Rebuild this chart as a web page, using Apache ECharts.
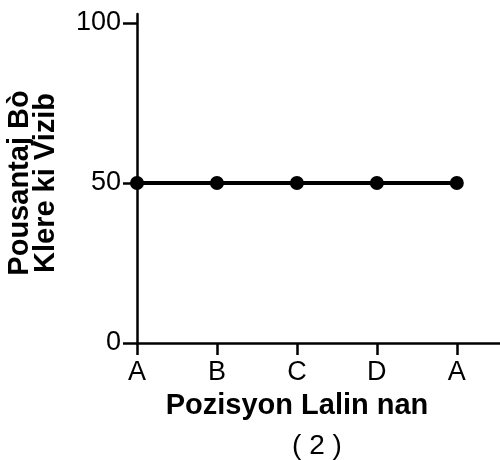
<!DOCTYPE html>
<html>
<head>
<meta charset="utf-8">
<script src="https://cdn.jsdelivr.net/npm/echarts@6/dist/echarts.min.js"></script>
<style>
  html, body { margin: 0; padding: 0; background: #fff; }
  #chart { width: 500px; height: 460px; }
</style>
</head>
<body>
<div id="chart"></div>
<script>
// pozisyon lalin nan (x) ak pousantaj (y)
const categories = ['A', 'B', 'C', 'D', 'A']
const percentVisible = [50, 50, 50, 50, 50]
const yTicks = [0, 50, 100]

const FONT = 'Arial, "Liberation Sans", sans-serif'
const chart = echarts.init(document.getElementById('chart'))

const positions = categories.map((c, i) => i)

chart.setOption({
  animation: false,
  grid: { left: 137, right: 0, top: 14, bottom: 117 },
  xAxis: {
    type: 'value',
    min: 0,
    max: 4.54,
    splitLine: { show: false },
    axisLine: { lineStyle: { color: '#000', width: 2.5 } },
    axisTick: { show: true, length: 12, lineStyle: { color: '#000', width: 2.5 }, customValues: positions },
    axisLabel: {
      customValues: positions,
      color: '#000', fontSize: 27, fontFamily: FONT, margin: 16,
      formatter: v => categories[Math.round(v)]
    }
  },
  yAxis: {
    type: 'value',
    min: 0,
    max: 102.8,
    splitLine: { show: false },
    axisLine: { show: true, lineStyle: { color: '#000', width: 2.5 } },
    axisTick: { show: true, length: 14, lineStyle: { color: '#000', width: 2.5 }, customValues: yTicks },
    axisLabel: { customValues: yTicks, color: '#000', fontSize: 27, fontFamily: FONT, margin: 16 }
  },
  graphic: [
    {
      type: 'text', x: 297, y: 406,
      style: { text: 'Pozisyon Lalin nan', fill: '#000', font: 'bold 29px ' + FONT, textAlign: 'center', textVerticalAlign: 'middle' }
    },
    {
      type: 'text', x: 317, y: 446,
      style: { text: '( 2 )', fill: '#000', font: '28px ' + FONT, textAlign: 'center', textVerticalAlign: 'middle' }
    },
    {
      type: 'text', x: 33, y: 183, rotation: Math.PI / 2,
      style: {
        text: 'Pousantaj Bò\nKlere ki Vizib', fill: '#000', font: 'bold 29px ' + FONT,
        lineHeight: 26, textAlign: 'center', textVerticalAlign: 'middle'
      }
    }
  ],
  series: [{
    type: 'line',
    data: positions.map((x, i) => [x, percentVisible[i]]),
    symbol: 'circle',
    symbolSize: 14,
    lineStyle: { color: '#000', width: 4 },
    itemStyle: { color: '#000' }
  }]
})
</script>
</body>
</html>
